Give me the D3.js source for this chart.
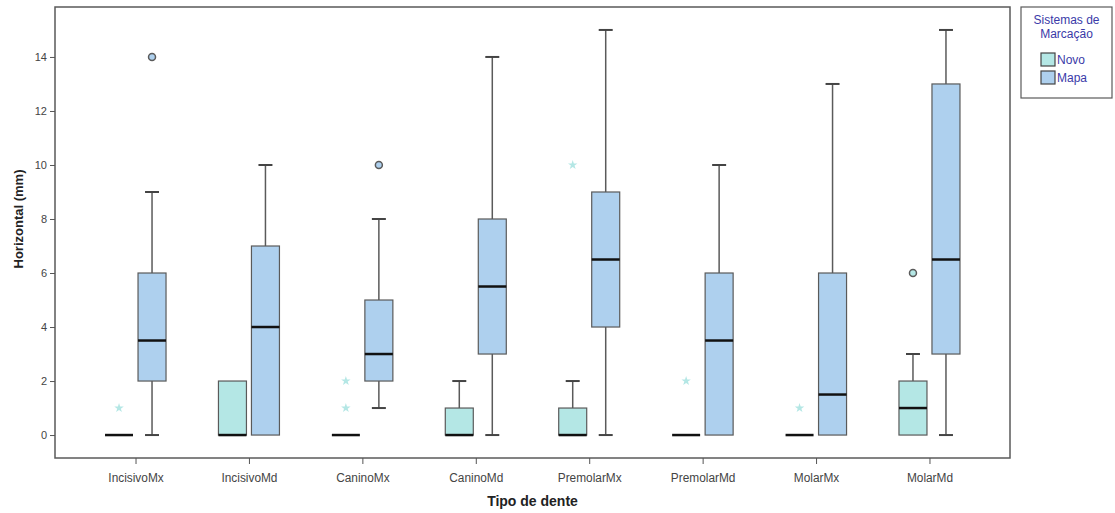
<!DOCTYPE html>
<html lang="pt">
<head>
<meta charset="UTF-8">
<title>Horizontal (mm) por tipo de dente</title>
<script src="https://d3js.org/d3.v7.min.js"></script>
<style>
    body { margin: 0; background: #fff; font-family: 'Liberation Sans', Arial, sans-serif; }
    svg { display: block; }
    .tick text { fill: #444; }
</style>
</head>
<body>
<svg id="chart" width="1115" height="513"></svg>
<script>
    // Categories and tick values
    const categories = ["IncisivoMx", "IncisivoMd", "CaninoMx", "CaninoMd", "PremolarMx", "PremolarMd", "MolarMx", "MolarMd"];
    const yTicks = [0, 2, 4, 6, 8, 10, 12, 14];
    const seriesNames = ["Novo", "Mapa"];

    // [min, q1, median, q3, max] per category
    const novoStats = [
        [0, 0, 0, 0, 0],
        [0, 0, 0, 2, 2],
        [0, 0, 0, 0, 0],
        [0, 0, 0, 1, 2],
        [0, 0, 0, 1, 2],
        [0, 0, 0, 0, 0],
        [0, 0, 0, 0, 0],
        [0, 0, 1, 2, 3]
    ];
    const mapaStats = [
        [0, 2, 3.5, 6, 9],
        [0, 0, 4, 7, 10],
        [1, 2, 3, 5, 8],
        [0, 3, 5.5, 8, 14],
        [0, 4, 6.5, 9, 15],
        [0, 0, 3.5, 6, 10],
        [0, 0, 1.5, 6, 13],
        [0, 3, 6.5, 13, 15]
    ];

    // outliers: circle = outlier, star = extreme
    const novoOutliers = [
        { cat: "IncisivoMx", value: 1, kind: "star" },
        { cat: "CaninoMx", value: 1, kind: "star" },
        { cat: "CaninoMx", value: 2, kind: "star" },
        { cat: "PremolarMx", value: 10, kind: "star" },
        { cat: "PremolarMd", value: 2, kind: "star" },
        { cat: "MolarMx", value: 1, kind: "star" },
        { cat: "MolarMd", value: 6, kind: "circle" }
    ];
    const mapaOutliers = [
        { cat: "IncisivoMx", value: 14, kind: "circle" },
        { cat: "CaninoMx", value: 10, kind: "circle" }
    ];

    const colors = { Novo: "#b4e7e5", Mapa: "#aed0ee" };
    const strokeCol = "#5a5a5a";

    const svg = d3.select("#chart");
    const margin = { top: 7, right: 105, bottom: 55, left: 55 };
    const width = +svg.attr("width") - margin.left - margin.right;
    const height = +svg.attr("height") - margin.top - margin.bottom;

    const chart = svg.append("g")
        .attr("transform", `translate(${margin.left},${margin.top})`);

    const x = d3.scalePoint().domain(categories).range([0, width]).padding(0.71);
    const y = d3.scaleLinear().domain([-0.85, 15.85]).range([height, 0]);

    const boxW = 28;
    const offsets = { Novo: -16.5, Mapa: 16.5 };

    // frame
    chart.append("rect")
        .attr("width", width).attr("height", height)
        .attr("fill", "none").attr("stroke", strokeCol).attr("stroke-width", 1.5);

    // axes
    const yAxis = chart.append("g")
        .call(d3.axisLeft(y).tickValues(yTicks).tickSize(5).tickPadding(3));
    yAxis.select(".domain").remove();
    yAxis.selectAll(".tick line").attr("stroke", "#555");
    yAxis.selectAll(".tick text").style("font-size", "11px");

    const xAxis = chart.append("g")
        .attr("transform", `translate(0,${height})`)
        .call(d3.axisBottom(x).tickSize(6).tickPadding(8));
    xAxis.select(".domain").remove();
    xAxis.selectAll(".tick line").attr("stroke", "#555");
    xAxis.selectAll(".tick text").style("font-size", "12.5px").attr("transform", "scale(0.95,1.05)");

    // axis titles
    chart.append("text")
        .attr("x", width / 2).attr("y", height + 48)
        .attr("text-anchor", "middle")
        .style("font-size", "14px").style("font-weight", "bold").attr("fill", "#222")
        .text("Tipo de dente");

    chart.append("text")
        .attr("transform", "rotate(-90)")
        .attr("x", -y(8)).attr("y", -32)
        .attr("text-anchor", "middle")
        .style("font-size", "13px").style("font-weight", "bold").attr("fill", "#222")
        .text("Horizontal (mm)");

    function drawBoxes(name, stats) {
        const g = chart.append("g");
        stats.forEach((s, i) => {
            const [mn, q1, med, q3, mx] = s;
            const cx = x(categories[i]) + offsets[name];
            // whiskers
            if (mx > q3) {
                g.append("line").attr("x1", cx).attr("x2", cx).attr("y1", y(q3)).attr("y2", y(mx))
                    .attr("stroke", strokeCol).attr("stroke-width", 1.5);
                g.append("line").attr("x1", cx - boxW / 4).attr("x2", cx + boxW / 4).attr("y1", y(mx)).attr("y2", y(mx))
                    .attr("stroke", "#444").attr("stroke-width", 2);
            }
            if (mn < q1) {
                g.append("line").attr("x1", cx).attr("x2", cx).attr("y1", y(q1)).attr("y2", y(mn))
                    .attr("stroke", strokeCol).attr("stroke-width", 1.5);
                g.append("line").attr("x1", cx - boxW / 4).attr("x2", cx + boxW / 4).attr("y1", y(mn)).attr("y2", y(mn))
                    .attr("stroke", "#444").attr("stroke-width", 2);
            }
            // box
            if (q3 > q1) {
                g.append("rect")
                    .attr("x", cx - boxW / 2).attr("y", y(q3))
                    .attr("width", boxW).attr("height", y(q1) - y(q3))
                    .attr("fill", colors[name]).attr("stroke", strokeCol).attr("stroke-width", 1.2);
            }
            // median
            g.append("line")
                .attr("x1", cx - boxW / 2).attr("x2", cx + boxW / 2)
                .attr("y1", y(med)).attr("y2", y(med))
                .attr("stroke", "#111").attr("stroke-width", 2.5);
        });
    }

    function drawOutliers(name, list) {
        const g = chart.append("g");
        list.forEach(o => {
            const cx = x(o.cat) + offsets[name];
            if (o.kind === "circle") {
                g.append("circle").attr("cx", cx).attr("cy", y(o.value)).attr("r", 3.5)
                    .attr("fill", colors[name]).attr("stroke", strokeCol).attr("stroke-width", 1.5);
            } else {
                g.append("path")
                    .attr("d", d3.symbol(d3.symbolStar, 28)())
                    .attr("transform", `translate(${cx},${y(o.value)})`)
                    .attr("fill", colors[name]);
            }
        });
    }

    drawBoxes("Novo", novoStats);
    drawBoxes("Mapa", mapaStats);
    drawOutliers("Novo", novoOutliers);
    drawOutliers("Mapa", mapaOutliers);

    // legend
    const legend = svg.append("g").attr("transform", "translate(1021,7)");
    legend.append("rect").attr("width", 91).attr("height", 91)
        .attr("fill", "#fff").attr("stroke", strokeCol).attr("stroke-width", 1.2);
    legend.append("text").attr("x", 45.5).attr("y", 17).attr("text-anchor", "middle")
        .style("font-size", "12px").attr("fill", "#3a3aa8").text("Sistemas de");
    legend.append("text").attr("x", 45.5).attr("y", 31).attr("text-anchor", "middle")
        .style("font-size", "12px").attr("fill", "#3a3aa8").text("Marcação");
    seriesNames.forEach((n, i) => {
        const ly = 46 + i * 18;
        legend.append("rect").attr("x", 20).attr("y", ly).attr("width", 14).attr("height", 13)
            .attr("fill", colors[n]).attr("stroke", "#444").attr("stroke-width", 1.2);
        legend.append("text").attr("x", 36).attr("y", ly + 11)
            .style("font-size", "12px").attr("fill", "#3a3aa8").text(n);
    });
</script>
</body>
</html>
